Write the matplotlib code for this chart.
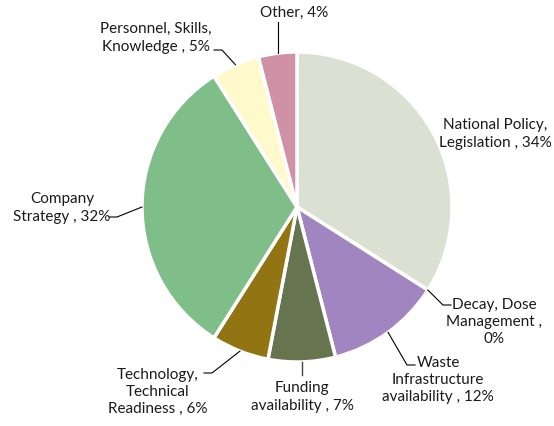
import numpy as np
import matplotlib
matplotlib.use("Agg")
import matplotlib.pyplot as plt

# 各类因素占比
labels = ["National Policy,\nLegislation , 34%",
          "Decay, Dose\nManagement ,\n0%",
          "Waste\nInfrastructure\navailability , 12%",
          "Funding\navailability , 7%",
          "Technology,\nTechnical\nReadiness , 6%",
          "Company\nStrategy , 32%",
          "Personnel, Skills,\nKnowledge , 5%",
          "Other, 4%"]
values = [34, 0, 12, 7, 6, 32, 5, 4]
colors = ["#DCE0D3", "#5B9BD5", "#A085C0", "#667550",
          "#927413", "#7FBD89", "#FFF9CC", "#D090A6"]
explode = [0.025, 0, 0, 0, 0, 0.02, 0, 0]

plt.rcParams['font.family'] = ['Lato', 'DejaVu Sans']

fig = plt.figure(figsize=(5.54, 4.26), dpi=100)
ax = fig.add_axes([0, 0, 1, 1])

cx, cy, r = 297, 219, 155
wedges, _ = ax.pie(values, colors=colors, startangle=90, counterclock=False,
                   explode=explode, center=(cx, cy), radius=r,
                   wedgeprops=dict(edgecolor="white", linewidth=2.5))
ax.set_xlim(0, 554)
ax.set_ylim(0, 426)
ax.set_aspect("auto")
ax.axis("off")

# 标签位置(文字中心) 与 引线折点
text_pos = [(495, 292), (494, 104), (438, 46), (302, 29), (158, 34),
            (62, 218), (156, 388), (294, 413)]
elbow = [None, (443, 121), (407, 61), None, (212, 53), (117, 209), (222, 376), None]

for i, w in enumerate(wedges):
    ang = np.deg2rad((w.theta1 + w.theta2) / 2)
    ax_x = w.center[0] + w.r * np.cos(ang)
    ax_y = w.center[1] + w.r * np.sin(ang)
    tx, ty = text_pos[i]
    ax.text(tx, ty, labels[i], ha="center", va="center", fontsize=11,
            color="#1a1a1a", linespacing=1.3)
    if i == 0:
        continue
    if elbow[i] is not None:
        ex, ey = elbow[i]
        hx = ex + (8 if ex > cx else -8)
        ax.plot([ax_x, ex, hx], [ax_y, ey, ey], color="black", lw=0.8)
    elif i == 3:
        ax.plot([ax_x, ax_x], [ax_y, 51], color="#444444", lw=1.0)
    elif i == 7:
        ax.plot([ax_x, ax_x], [ax_y, 404], color="black", lw=0.8)

fig.savefig("out.png", dpi=100)
